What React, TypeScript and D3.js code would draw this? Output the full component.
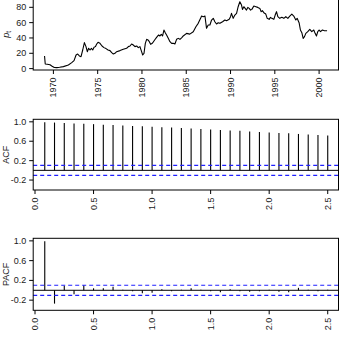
import React from "react";
import * as d3 from "d3";

// ---- data ----
const priceYears = [
  1969.0, 1969.08, 1969.3, 1969.62, 1969.81, 1970.1, 1970.38, 1970.7, 1971.13, 1971.69,
  1972.07, 1972.33, 1972.56, 1972.74, 1972.93, 1973.12, 1973.31, 1973.5, 1973.68, 1973.83,
  1973.98, 1974.14, 1974.29, 1974.44, 1974.59, 1974.74, 1974.89, 1975.04, 1975.26, 1975.49,
  1975.71, 1975.94, 1976.17, 1976.39, 1976.58, 1976.77, 1976.95, 1977.14, 1977.52, 1977.89,
  1978.27, 1978.46, 1978.65, 1978.83, 1979.02, 1979.21, 1979.4, 1979.59, 1979.77, 1979.96,
  1980.08, 1980.23, 1980.38, 1980.53, 1980.68, 1980.83, 1980.98, 1981.2, 1981.43, 1981.65,
  1981.88, 1982.03, 1982.18, 1982.33, 1982.48, 1982.63, 1982.78, 1982.97, 1983.16, 1983.35,
  1983.53, 1983.72, 1983.91, 1984.1, 1984.29, 1984.5, 1984.66, 1985.04, 1985.4, 1985.79,
  1986.09, 1986.35, 1986.62, 1986.73, 1986.92, 1987.11, 1987.29, 1987.48, 1987.67, 1987.86,
  1988.05, 1988.23, 1988.42, 1988.61, 1988.8, 1989.1, 1989.36, 1989.55, 1989.85, 1990.0,
  1990.11, 1990.3, 1990.49, 1990.68, 1990.86, 1991.05, 1991.24, 1991.35, 1991.5, 1991.65,
  1991.8, 1991.95, 1992.11, 1992.26, 1992.41, 1992.63, 1992.86, 1993.08, 1993.31, 1993.46,
  1993.61, 1993.76, 1993.98, 1994.14, 1994.36, 1994.51, 1994.66, 1994.89, 1995.04, 1995.19,
  1995.34, 1995.56, 1995.79, 1996.02, 1996.24, 1996.47, 1996.69, 1996.92, 1997.14, 1997.37,
  1997.52, 1997.74, 1997.89, 1998.05, 1998.2, 1998.35, 1998.5, 1998.72, 1998.95, 1999.17,
  1999.4, 1999.55, 1999.7, 1999.85, 2000.0, 2000.15, 2000.38, 2000.6, 2000.9,
];
const priceValues = [
  16.5, 6.1, 5.8, 5.0, 3.5, 1.5, 1.3, 1.8, 2.6, 4.8,
  7.8, 10.4, 17.8, 19.1, 16.5, 15.6, 24.3, 33.9, 28.7, 22.1,
  26.5, 24.3, 26.5, 24.3, 27.8, 28.7, 32.1, 34.3, 33.0, 29.5,
  27.4, 26.1, 24.3, 23.5, 20.8, 19.1, 20.0, 22.1, 23.5, 25.2,
  26.5, 28.7, 29.5, 32.1, 30.8, 28.7, 29.5, 27.4, 28.7, 22.1,
  17.8, 20.0, 33.0, 38.2, 37.4, 35.2, 31.7, 33.5, 37.4, 40.8,
  43.9, 42.6, 44.7, 42.6, 50.4, 46.9, 43.9, 39.5, 35.2, 33.0,
  33.0, 32.1, 38.2, 39.5, 38.2, 40.5, 42.6, 46.0, 45.0, 48.2,
  54.7, 59.1, 65.6, 68.6, 67.8, 68.6, 52.6, 56.9, 56.9, 63.4,
  65.6, 61.2, 58.2, 59.9, 59.1, 61.2, 63.4, 62.5, 64.3, 67.8,
  72.1, 65.6, 69.9, 72.1, 80.8, 87.3, 83.0, 77.3, 80.8, 78.6,
  76.4, 79.9, 78.6, 76.4, 77.3, 81.7, 80.8, 79.9, 78.6, 74.3,
  75.6, 73.0, 71.2, 65.6, 64.3, 66.9, 65.6, 64.3, 69.9, 74.3,
  67.8, 65.6, 66.9, 65.6, 67.8, 65.6, 68.6, 71.2, 68.6, 63.4,
  65.6, 59.9, 50.4, 46.9, 39.5, 41.7, 46.0, 48.2, 51.2, 48.2,
  50.4, 46.0, 42.6, 48.2, 50.4, 48.2, 50.4, 49.5, 49.5,
];
const yearTicks = [1970, 1975, 1980, 1985, 1990, 1995, 2000];
const priceTicks = [0, 20, 40, 60, 80];

const lagMonths = [
  1, 2, 3, 4, 5, 6, 7, 8, 9, 10, 11, 12, 13, 14, 15,
  16, 17, 18, 19, 20, 21, 22, 23, 24, 25, 26, 27, 28, 29, 30,
];
const frequency = 12;
const acfValues = [
  0.99, 0.985, 0.978, 0.966, 0.958, 0.952, 0.94, 0.932, 0.925, 0.913,
  0.907, 0.9, 0.89, 0.883, 0.872, 0.864, 0.852, 0.843, 0.832, 0.823,
  0.815, 0.803, 0.79, 0.782, 0.77, 0.762, 0.75, 0.741, 0.73, 0.72,
];
const pacfValues = [
  0.99, -0.27, 0.09, -0.08, 0.1, 0.04, 0.04, 0.07, 0.01, -0.02,
  -0.06, -0.05, 0.02, -0.02, 0.01, 0.04, 0.01, -0.02, -0.04, 0.02,
  -0.02, -0.03, -0.02, 0.01, -0.03, -0.04, 0.05, 0.01, -0.02, 0.01,
];
const corrTicks = [-0.2, 0.2, 0.6, 1.0];
const lagTicks = [0, 0.5, 1.0, 1.5, 2.0, 2.5];
const ciBound = 0.102;

// ---- layout ----
const W = 341;
const H = 339;
const left = 33.2;
const right = 338.5;
const FONT = "'Liberation Sans', Arial, Helvetica, sans-serif";
const TXT = "#1a1a1a";
const FS = 9;

function YAxis({ scale, ticks, fmt, x }: any) {
  return (
    <g>
      {ticks.map((t: number) => (
        <g key={t}>
          <line x1={x - 4} x2={x} y1={scale(t)} y2={scale(t)} stroke="#000" strokeWidth={1} />
          <text
            x={x - 7}
            y={scale(t)}
            textAnchor="end"
            dominantBaseline="central"
            fontSize={FS}
            fontFamily={FONT}
            fill={TXT}
          >
            {fmt(t)}
          </text>
        </g>
      ))}
    </g>
  );
}

function XAxis({ scale, ticks, fmt, y }: any) {
  return (
    <g>
      {ticks.map((t: number) => (
        <g key={t}>
          <line x1={scale(t)} x2={scale(t)} y1={y} y2={y + 4} stroke="#000" strokeWidth={1} />
          <text
            transform={`translate(${scale(t)},${y + 7.5}) rotate(-90)`}
            textAnchor="end"
            dominantBaseline="central"
            fontSize={FS}
            fontFamily={FONT}
            fill={TXT}
          >
            {fmt(t)}
          </text>
        </g>
      ))}
    </g>
  );
}

function CorrPanel({ values, top, bottom, label }: any) {
  const x = d3.scaleLinear().domain([-0.0154, 2.592]).range([left, right]);
  const y = d3.scaleLinear().domain([-0.405, 1.052]).range([bottom, top]);
  const fmt = (v: number) => v.toFixed(1);
  return (
    <g>
      {values.map((v: number, i: number) => {
        const lag = lagMonths[i] / frequency;
        return (
          <line
            key={i}
            x1={x(lag)}
            x2={x(lag)}
            y1={y(0)}
            y2={y(v)}
            stroke="#000"
            strokeWidth={1.1}
          />
        );
      })}
      <line x1={left} x2={right} y1={y(0)} y2={y(0)} stroke="#000" strokeWidth={1} />
      {[ciBound, -ciBound].map((c) => (
        <line
          key={c}
          x1={left}
          x2={right}
          y1={y(c)}
          y2={y(c)}
          stroke="#2020ff"
          strokeWidth={1.2}
          strokeDasharray="4,3"
        />
      ))}
      <rect x={left} y={top} width={right - left} height={bottom - top} fill="none" stroke="#000" strokeWidth={1} />
      <YAxis scale={y} ticks={corrTicks} fmt={fmt} x={left} />
      <XAxis scale={x} ticks={lagTicks} fmt={fmt} y={bottom} />
      <text
        transform={`translate(8.5,${(top + bottom) / 2}) rotate(-90)`}
        textAnchor="middle"
        fontSize={FS}
        fontFamily={FONT}
        fill={TXT}
      >
        {label}
      </text>
    </g>
  );
}

export default function App() {
  const topY0 = -1.5;
  const topY1 = 70;
  const xs = d3.scaleLinear().domain([1967.72, 2002.19]).range([left, right]);
  const ys = d3.scaleLinear().domain([-1.8, 91.5]).range([topY1, topY0]);
  const pts = priceYears.map((yr, i) => [yr, priceValues[i]] as [number, number]);
  const path = d3
    .line<[number, number]>()
    .x((d) => xs(d[0]))
    .y((d) => ys(d[1]))(pts) as string;

  return (
    <svg
      width={W}
      height={H}
      style={{ position: "absolute", left: 0, top: 0, background: "#fff" }}
    >
      <rect x={0} y={0} width={W} height={H} fill="#fff" />
      {/* top: price series */}
      <path d={path} fill="none" stroke="#000" strokeWidth={1.1} strokeLinejoin="round" />
      <rect x={left} y={topY0} width={right - left} height={topY1 - topY0} fill="none" stroke="#000" strokeWidth={1} />
      <YAxis scale={ys} ticks={priceTicks} fmt={(v: number) => String(v)} x={left} />
      <XAxis scale={xs} ticks={yearTicks} fmt={(v: number) => String(v)} y={topY1} />
      <text
        transform={`translate(8.5,${(topY0 + topY1) / 2}) rotate(-90)`}
        textAnchor="middle"
        fontSize={FS}
        fontFamily={FONT}
        fill={TXT}
      >
        <tspan fontStyle="italic">p</tspan>
        <tspan fontSize={6.5} dy={2}>t</tspan>
      </text>

      <CorrPanel values={acfValues} top={119.3} bottom={190} label="ACF" />
      <CorrPanel values={pacfValues} top={238.3} bottom={310.3} label="PACF" />
    </svg>
  );
}
